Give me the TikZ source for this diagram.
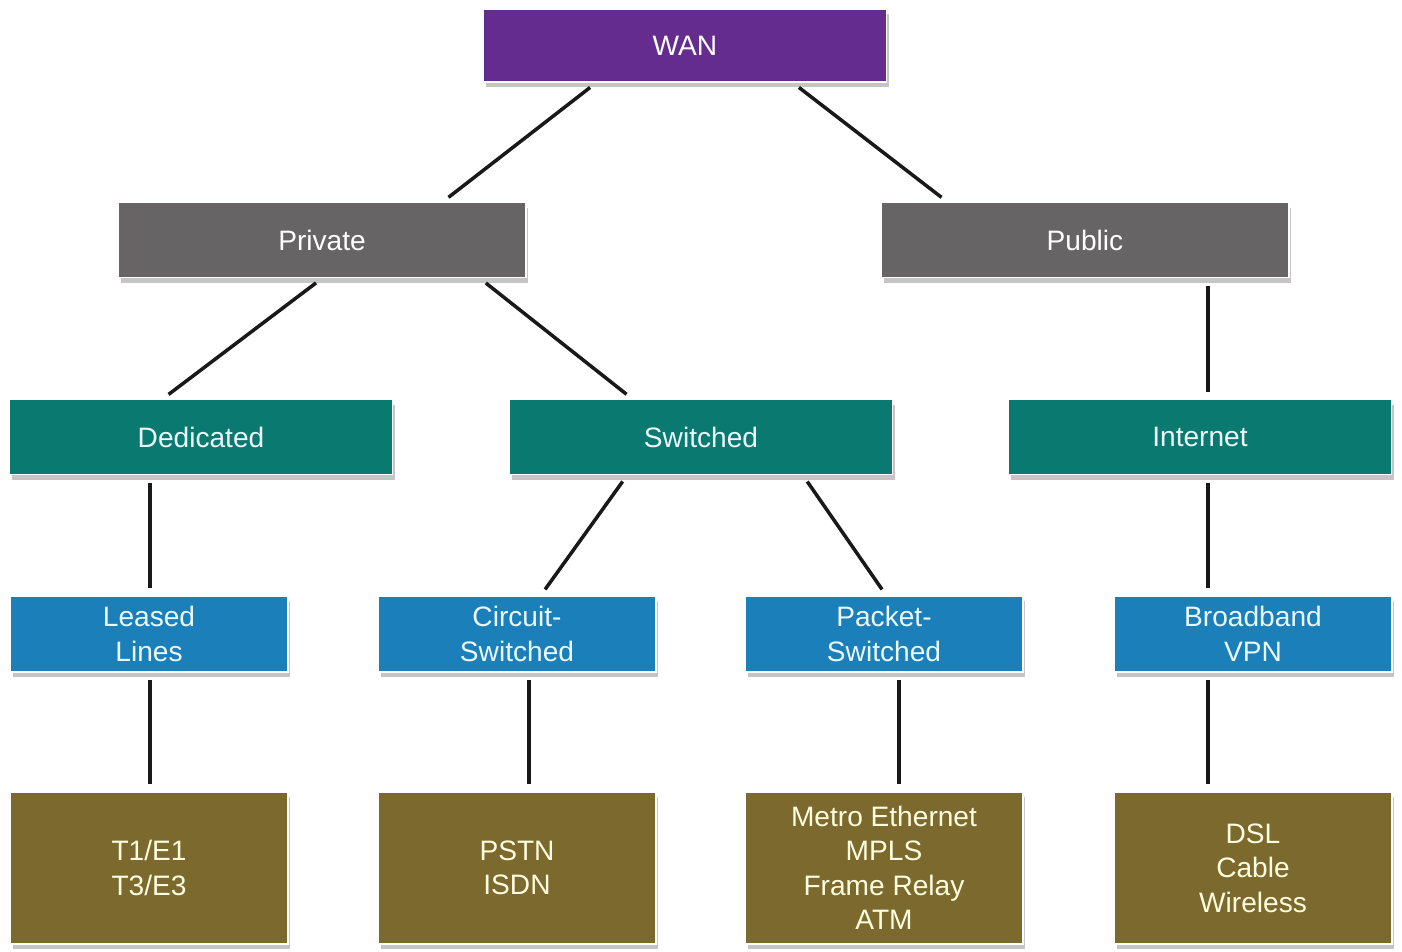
\documentclass[tikz,border=0pt]{standalone}
\usepackage{fontspec}
\setsansfont{Liberation Sans}
\usetikzlibrary{shadows}

\definecolor{wanpurple}{HTML}{652C8F}
\definecolor{netgrey}{HTML}{666464}
\definecolor{netteal}{HTML}{0A7A70}
\definecolor{netblue}{HTML}{1B7FBA}
\definecolor{netolive}{HTML}{7B692D}

\begin{document}
\begin{tikzpicture}[x=0.02cm,y=-0.02cm]
	\tikzstyle{box}=[draw=white, line width=1pt, align=center, inner sep=0pt,
		font=\sffamily\fontsize{16}{19.6}\selectfont,
		drop shadow={shadow xshift=0.05cm, shadow yshift=-0.1cm, opacity=0.45}]
	\tikzstyle{rootbox}=[box, fill=wanpurple, text=white, minimum width=8.06cm, minimum height=1.46cm]
	\tikzstyle{kindbox}=[box, fill=netgrey, text=white, minimum width=8.16cm, minimum height=1.5cm]
	\tikzstyle{typebox}=[box, fill=netteal, text=cyan!8, minimum width=7.66cm, minimum height=1.5cm]
	\tikzstyle{techbox}=[box, fill=netblue, text=cyan!8, minimum width=5.56cm, minimum height=1.52cm]
	\tikzstyle{protobox}=[box, fill=netolive, text=yellow!12, minimum width=5.56cm, minimum height=3.04cm]
	\tikzstyle{link}=[line width=2pt, draw=black!90, shorten <=0.15cm, shorten >=0.14cm]

	\fill[white] (0,0) rectangle (1402,951);
	\useasboundingbox (0,0) rectangle (1402,951);

	\node[rootbox](wan) at (685,45.5){WAN};

	\node[kindbox](priv) at (322,240){Private};
	\node[kindbox](pub) at (1085,240){Public};

	\node[typebox](ded) at (201,437){Dedicated};
	\node[typebox](sw) at (701,437){Switched};
	\node[typebox](inet) at (1200,437){Internet};

	\node[techbox](leased) at (149,634){Leased\\Lines};
	\node[techbox](circ) at (517,634){Circuit-\\Switched};
	\node[techbox](pack) at (884,634){Packet-\\Switched};
	\node[techbox](bvpn) at (1253,634){Broadband\\VPN};

	\node[protobox](tline) at (149,868){T1/E1\\T3/E3};
	\node[protobox](pstn) at (517,868){PSTN\\ISDN};
	\node[protobox](metro) at (884,868){Metro Ethernet\\MPLS\\Frame Relay\\ATM};
	\node[protobox](dsl) at (1253,868){DSL\\Cable\\Wireless};

	\draw[link] ([xshift=-1.78cm]wan.south) -- ([xshift=2.42cm]priv.north);
	\draw[link] ([xshift=2.16cm]wan.south) -- ([xshift=-2.76cm]pub.north);

	\draw[link] (priv.south) -- ([xshift=-0.76cm]ded.north);
	\draw[link] ([xshift=3.16cm]priv.south) -- ([xshift=-1.38cm]sw.north);
	\draw[link] ([xshift=2.46cm]pub.south) -- ([xshift=2.46cm]pub.south |- inet.north);

	\draw[link] ([xshift=-1.02cm]ded.south) -- ([xshift=-1.02cm]ded.south |- leased.north);
	\draw[link] ([xshift=-1.48cm]sw.south) -- ([xshift=0.48cm]circ.north);
	\draw[link] ([xshift=2.04cm]sw.south) -- ([xshift=0.04cm]pack.north);
	\draw[link] ([xshift=0.16cm]inet.south) -- ([xshift=0.16cm]inet.south |- bvpn.north);

	\draw[link] ([xshift=0.02cm]leased.south) -- ([xshift=0.02cm]tline.north);
	\draw[link] ([xshift=0.24cm]circ.south) -- ([xshift=0.24cm]pstn.north);
	\draw[link] ([xshift=0.3cm]pack.south) -- ([xshift=0.3cm]metro.north);
	\draw[link] ([xshift=-0.9cm]bvpn.south) -- ([xshift=-0.9cm]dsl.north);

\end{tikzpicture}
\end{document}
